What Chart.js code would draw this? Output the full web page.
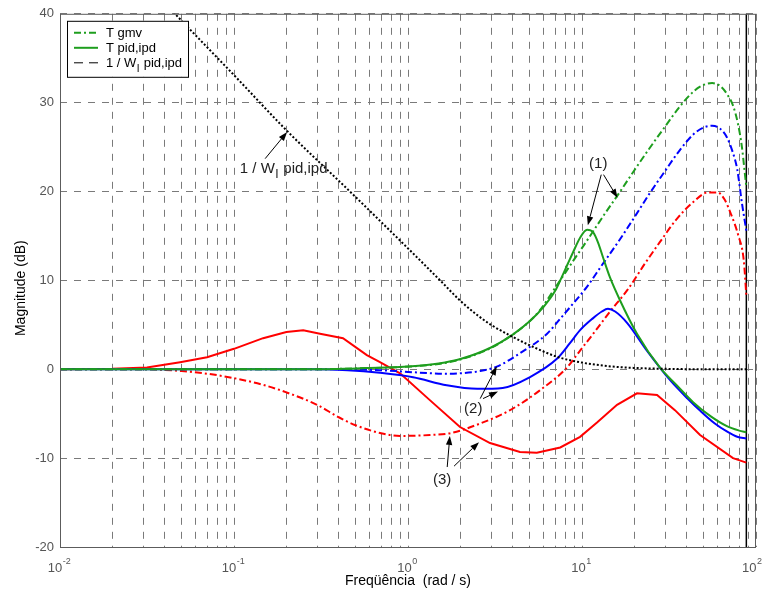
<!DOCTYPE html>
<html>
<head>
<meta charset="utf-8">
<script src="https://cdn.jsdelivr.net/npm/chart.js@4.4.1/dist/chart.umd.min.js"></script>
<style>
  html, body { margin: 0; padding: 0; background: #fff; }
  #myChart { display: block; }
</style>
</head>
<body>
<canvas id="myChart" width="763" height="593"></canvas>
<script>
// frequency grid (rad/s) and tick values
const freqTicks = [0.01, 0.02, 0.03, 0.04, 0.05, 0.06, 0.07, 0.08, 0.09,
                   0.1, 0.2, 0.3, 0.4, 0.5, 0.6, 0.7, 0.8, 0.9,
                   1, 2, 3, 4, 5, 6, 7, 8, 9,
                   10, 20, 30, 40, 50, 60, 70, 80, 90, 100];
const decadeTicks = [0.01, 0.1, 1, 10, 100];
const decadeExps = ['-2', '-1', '0', '1', '2'];
const magTicks = [-20, -10, 0, 10, 20, 30, 40];

// (1) T gmv
const wGmv1 = [0.01, 0.3, 0.5, 0.9, 1.5, 2, 3, 4, 5, 5.7, 7.2, 8.9, 10.7, 13, 16.3, 20, 24.5, 30, 36.6, 44, 50, 56, 62, 68, 74, 79, 83, 86, 88];
const magGmv1 = [0, 0, 0.1, 0.25, 0.6, 1.1, 2.4, 3.9, 5.4, 6.6, 9.5, 12.2, 14.5, 17.0, 19.8, 22.4, 24.9, 27.3, 29.6, 31.3, 32.0, 32.2, 31.9, 31.0, 29.6, 27.5, 25.0, 22.3, 20.5];

// (1) T pid,ipd
const wPid1 = [0.01, 0.3, 0.5, 0.9, 1.5, 2, 3, 4, 5, 6, 7, 7.5, 8.3, 8.9, 9.75, 10.7, 11.6, 12.4, 13.2, 14.5, 16.5, 20.7, 28, 35, 43.5, 55, 68, 80, 88];
const magPid1 = [0, 0, 0.1, 0.25, 0.65, 1.15, 2.45, 3.9, 5.4, 7.0, 8.8, 10.0, 11.9, 13.2, 14.8, 15.7, 15.4, 14.2, 12.6, 10.3, 7.8, 4.0, 0.2, -1.8, -3.7, -5.3, -6.4, -6.9, -7.1];

// (2) T gmv
const wGmv2 = [0.01, 0.3, 0.69, 1, 1.67, 2, 2.6, 3.24, 4.4, 6.3, 7.5, 8.9, 10.7, 13, 16.5, 20, 24.5, 30, 36.6, 44, 50, 56, 62, 68, 73, 78, 83, 86, 88];
const magGmv2 = [0, 0, -0.1, -0.3, -0.5, -0.45, -0.2, 0.3, 1.8, 4.0, 5.7, 7.4, 9.3, 11.7, 14.6, 17.1, 19.8, 22.3, 24.7, 26.5, 27.2, 27.4, 27.1, 26.1, 24.6, 22.5, 18.7, 16.8, 15.6];

// (2) T pid,ipd
const wPid2 = [0.01, 0.3, 0.45, 0.69, 1.07, 1.67, 2.5, 3.5, 5, 7.2, 8.5, 9.75, 11.5, 13, 14.1, 15.5, 18.2, 23.6, 32, 40, 48, 58, 68, 78, 88];
const magPid2 = [0, 0, -0.1, -0.4, -0.9, -1.8, -2.2, -2.1, -0.9, 1.2, 2.9, 4.4, 5.7, 6.5, 6.8, 6.5, 5.2, 2.1, -1.2, -3.2, -4.7, -6.1, -7.0, -7.6, -7.8];

// (3) T gmv
const wGmv3 = [0.01, 0.03, 0.05, 0.07, 0.1, 0.15, 0.2, 0.3, 0.4, 0.5, 0.7, 0.9, 1.34, 1.75, 2.6, 3.86, 5.7, 8.2, 9.75, 11.6, 14.5, 18.2, 23, 28, 35, 43.5, 53, 60, 66, 72, 79, 85, 88];
const magGmv3 = [0, 0, -0.2, -0.5, -1.0, -1.8, -2.6, -4.0, -5.4, -6.3, -7.2, -7.5, -7.4, -7.2, -6.1, -4.6, -2.4, 0.2, 2.1, 4.0, 6.5, 8.9, 11.9, 14.3, 16.9, 18.8, 19.9, 19.9, 19.1, 17.4, 15.1, 12.3, 8.3];

// (3) T pid,ipd
const wPid3 = [0.01, 0.02, 0.0316, 0.049, 0.07, 0.1, 0.147, 0.2, 0.25, 0.312, 0.423, 0.58, 0.69, 0.9, 1.34, 1.99, 2.96, 4.4, 5.5, 7.5, 9.75, 12.2, 15.9, 20.7, 27, 34.2, 47.7, 73.8, 88];
const magPid3 = [0, 0.05, 0.2, 0.8, 1.35, 2.3, 3.5, 4.2, 4.4, 4.0, 3.5, 1.6, 0.8, -0.45, -3.5, -6.5, -8.3, -9.3, -9.4, -8.8, -7.6, -6.0, -4.0, -2.7, -2.9, -4.6, -7.4, -10.0, -10.5];

// 1 / W_I pid,ipd
const wInv = [0.01, 0.02, 0.0458, 0.1, 0.2, 0.464, 1, 1.53, 2, 2.5, 3, 3.86, 5, 7.2, 10, 15, 20, 30, 50, 88];
const magInv = [53.5, 47.5, 40, 33.1, 26.9, 20, 13.6, 10, 7.7, 6.1, 5.0, 3.8, 2.7, 1.4, 0.75, 0.3, 0.15, 0.05, 0, 0];

// last frequency of the sweep
const wEnd = [88];

const GREEN = '#1e9e1e';
const BLUE = '#0000ff';
const RED = '#ff0000';
const DASHDOT = [7, 3, 2, 3];
const DOTTED = [2, 2];

const pts = (w, m) => w.map((f, i) => ({ x: f, y: m[i] }));

function curve(w, m, color, dash, mode) {
  return {
    data: pts(w, m),
    borderColor: color,
    borderWidth: 2,
    borderDash: dash,
    pointRadius: 0,
    fill: false,
    tension: mode === 'poly' ? 0 : 0.4,
    cubicInterpolationMode: mode === 'poly' ? 'default' : 'monotone'
  };
}

// text and arrows placed in data units (rad/s, dB)
const notes = [
  { text: '(1)', at: [12.4, 23.1], arrows: [[[12.9, 21.9], [10.8, 16.2]], [[13.3, 21.9], [16.0, 19.3]]] },
  { text: '(2)', at: [2.37, -4.4], arrows: [[[2.6, -3.3], [3.24, 0.35]], [[2.7, -3.3], [3.29, -2.5]]] },
  { text: '(3)', at: [1.57, -12.4], arrows: [[[1.68, -11.0], [1.74, -7.5]], [[1.84, -10.9], [2.56, -8.2]]] }
];
const invLabelAt = [0.108, 22.6];
const invArrow = [[0.151, 23.7], [0.202, 26.7]];

const FONT = '"Liberation Sans", Arial, sans-serif';

function arrow(ctx, x0, y0, x1, y1) {
  const ang = Math.atan2(y1 - y0, x1 - x0);
  const len = 9, half = 3.2;
  ctx.beginPath();
  ctx.moveTo(x0, y0);
  ctx.lineTo(x1 - Math.cos(ang) * len, y1 - Math.sin(ang) * len);
  ctx.stroke();
  ctx.beginPath();
  ctx.moveTo(x1, y1);
  ctx.lineTo(x1 - Math.cos(ang) * len - Math.sin(ang) * half, y1 - Math.sin(ang) * len + Math.cos(ang) * half);
  ctx.lineTo(x1 - Math.cos(ang) * len + Math.sin(ang) * half, y1 - Math.sin(ang) * len - Math.cos(ang) * half);
  ctx.closePath();
  ctx.fill();
}

// W with subscript I, then the rest of the string
function drawWI(ctx, x, y, pre, post, size) {
  ctx.font = size + 'px ' + FONT;
  ctx.fillText(pre, x, y);
  x += ctx.measureText(pre).width;
  ctx.font = (size - 3) + 'px ' + FONT;
  ctx.fillText('I', x + 0.5, y + 5);
  x += ctx.measureText('I').width + 1;
  ctx.font = size + 'px ' + FONT;
  ctx.fillText(post, x, y);
}

const extras = {
  id: 'extras',
  afterDraw(chart) {
    const { ctx, chartArea: a, scales: { x, y } } = chart;
    ctx.save();

    // axes box
    ctx.strokeStyle = '#5c5c5c';
    ctx.lineWidth = 1;
    ctx.setLineDash([]);
    ctx.strokeRect(a.left + 0.5, a.top + 0.5, a.right - a.left - 1, a.bottom - a.top);

    // decade labels 10^n (kept inside the canvas at the right edge)
    ctx.fillStyle = '#555';
    ctx.textBaseline = 'alphabetic';
    decadeTicks.forEach((v, i) => {
      const px = x.getPixelForValue(v);
      ctx.font = '13px ' + FONT;
      const wb = ctx.measureText('10').width;
      ctx.font = '9px ' + FONT;
      const we = ctx.measureText(decadeExps[i]).width;
      const x0 = Math.min(px - (wb + we) / 2 - 1, chart.width - wb - we - 1.5);
      ctx.font = '13px ' + FONT;
      ctx.fillText('10', x0, a.bottom + 25);
      ctx.font = '9px ' + FONT;
      ctx.fillText(decadeExps[i], x0 + wb + 0.5, a.bottom + 17);
    });

    // legend
    const lx = a.left + 7, ly = a.top + 7, lw = 121, lh = 56;
    ctx.fillStyle = '#fff';
    ctx.fillRect(lx, ly, lw, lh);
    ctx.strokeStyle = '#000';
    ctx.lineWidth = 1;
    ctx.strokeRect(lx + 0.5, ly + 0.5, lw, lh);
    const rows = [
      { dash: DASHDOT, color: GREEN, width: 2 },
      { dash: [], color: GREEN, width: 2 },
      { dash: [9, 6], color: '#000', width: 1 }
    ];
    rows.forEach((r, i) => {
      const yy = ly + 12 + i * 15;
      ctx.strokeStyle = r.color;
      ctx.lineWidth = r.width;
      ctx.setLineDash(r.dash);
      ctx.beginPath();
      ctx.moveTo(lx + 7, yy);
      ctx.lineTo(lx + 31, yy);
      ctx.stroke();
    });
    ctx.setLineDash([]);
    ctx.fillStyle = '#000';
    ctx.font = '13px ' + FONT;
    ctx.fillText('T gmv', lx + 39, ly + 16);
    ctx.fillText('T pid,ipd', lx + 39, ly + 31);
    drawWI(ctx, lx + 39, ly + 46, '1 / W', ' pid,ipd', 13);

    // annotations
    ctx.strokeStyle = '#000';
    ctx.fillStyle = '#000';
    ctx.lineWidth = 1;
    ctx.textAlign = 'center';
    ctx.textBaseline = 'middle';
    ctx.font = '15px ' + FONT;
    notes.forEach(n => {
      ctx.fillStyle = '#222';
      ctx.fillText(n.text, x.getPixelForValue(n.at[0]), y.getPixelForValue(n.at[1]));
      ctx.fillStyle = '#000';
      n.arrows.forEach(([p, q]) => arrow(ctx,
        x.getPixelForValue(p[0]), y.getPixelForValue(p[1]),
        x.getPixelForValue(q[0]), y.getPixelForValue(q[1])));
    });
    ctx.textAlign = 'left';
    ctx.textBaseline = 'alphabetic';
    ctx.fillStyle = '#222';
    drawWI(ctx, x.getPixelForValue(invLabelAt[0]), y.getPixelForValue(invLabelAt[1]) + 5, '1 / W', ' pid,ipd', 15);
    ctx.fillStyle = '#000';
    arrow(ctx, x.getPixelForValue(invArrow[0][0]), y.getPixelForValue(invArrow[0][1]),
      x.getPixelForValue(invArrow[1][0]), y.getPixelForValue(invArrow[1][1]));

    ctx.restore();
  }
};

const ctx = document.getElementById('myChart');

new Chart(ctx, {
  type: 'line',
  data: {
    datasets: [
      curve(wInv, magInv, '#000', DOTTED),
      curve(wGmv1, magGmv1, GREEN, DASHDOT),
      curve(wPid1, magPid1, GREEN, []),
      curve(wGmv2, magGmv2, BLUE, DASHDOT),
      curve(wPid2, magPid2, BLUE, []),
      curve(wGmv3, magGmv3, RED, DASHDOT),
      curve(wPid3, magPid3, RED, [], 'poly'),
      {
        data: [{ x: wEnd[0], y: magTicks[0] }, { x: wEnd[0], y: magTicks[magTicks.length - 1] }],
        borderColor: '#000',
        borderWidth: 1.5,
        pointRadius: 0,
        fill: false
      }
    ]
  },
  options: {
    responsive: false,
    animation: false,
    layout: { padding: { top: 13, right: 7, left: 0, bottom: 0 } },
    plugins: {
      legend: { display: false },
      tooltip: { enabled: false }
    },
    scales: {
      x: {
        type: 'logarithmic',
        min: 0.01,
        max: 100,
        afterBuildTicks: s => { s.ticks = freqTicks.map(v => ({ value: v })); },
        afterFit: s => { s.height = 46; },
        ticks: { display: false },
        grid: { color: '#7a7a7a', lineWidth: 1, drawTicks: false },
        border: { display: false, dash: [7, 7] },
        title: {
          display: true,
          text: 'Freqüência  (rad / s)',
          color: '#000',
          font: { family: FONT, size: 14 },
          padding: { top: 0, bottom: 3 }
        }
      },
      y: {
        min: -20,
        max: 40,
        afterBuildTicks: s => { s.ticks = magTicks.map(v => ({ value: v })); },
        afterFit: s => { s.width = 60; },
        ticks: {
          color: '#555',
          padding: 6,
          font: { family: FONT, size: 13 }
        },
        grid: { color: '#7a7a7a', lineWidth: 1, drawTicks: false },
        border: { display: false, dash: [7, 7] },
        title: {
          display: true,
          text: 'Magnitude (dB)    ',
          color: '#000',
          font: { family: FONT, size: 14 },
          padding: { top: 13, bottom: 0 }
        }
      }
    }
  },
  plugins: [extras]
});
</script>
</body>
</html>
